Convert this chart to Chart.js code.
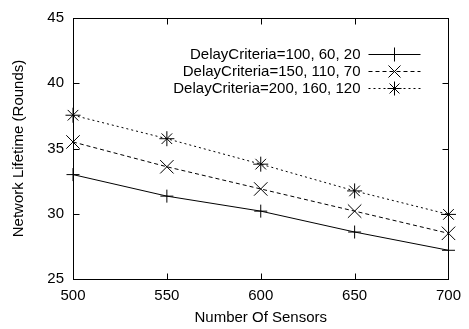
<!DOCTYPE html>
<html>
<head>
<meta charset="utf-8">
<script src="https://cdn.jsdelivr.net/npm/chart.js@4/dist/chart.umd.min.js"></script>
<style>
  body { margin: 0; background: #fff; }
  canvas { display: block; }
</style>
</head>
<body>
<canvas id="lifetime-chart" width="469" height="329"></canvas>
<script>

// Data.
var sensorCounts = [500, 550, 600, 650, 700];
var lifetimeDelay100 = [33.0, 31.35, 30.2, 28.6, 27.2];
var lifetimeDelay150 = [35.5, 33.6, 31.9, 30.2, 28.5];
var lifetimeDelay200 = [37.55, 35.75, 33.8, 31.75, 29.95];
var seriesLabels = [
    "DelayCriteria=100, 60, 20",
    "DelayCriteria=150, 110, 70",
    "DelayCriteria=200, 160, 120",
];
var xTickStep = 50;
var yTickStep = 5;
var yMin = 25;
var yMax = 45;

var FONT = "'Liberation Sans', Arial, Helvetica, sans-serif";


/**
* Pair x values with y values for a linear x axis.
*/
function toPoints(values) {

    return(sensorCounts.map((x, i) => ({x: x, y: values[i]})));

} // End of toPoints()


/**
* Draw one gnuplot-style marker (used in the key only).
*/
function drawMarker(ctx, style, x, y, r) {

    ctx.beginPath();
    if (style == "cross" || style == "star") {
        ctx.moveTo(x - r, y); ctx.lineTo(x + r, y);
        ctx.moveTo(x, y - r); ctx.lineTo(x, y + r);
    }
    if (style == "crossRot" || style == "star") {
        var d = r * Math.SQRT1_2;
        ctx.moveTo(x - d, y - d); ctx.lineTo(x + d, y + d);
        ctx.moveTo(x + d, y - d); ctx.lineTo(x - d, y + d);
    }
    ctx.stroke();

} // End of drawMarker()


/**
* Frame with inward ticks on all four sides, gnuplot style.
*/
var framePlugin = {
    id: "frame",
    beforeDatasetsDraw(chart) {
        var ctx = chart.ctx;
        var a = chart.chartArea;
        var xs = chart.scales.x;
        var ys = chart.scales.y;
        var len = 6;
        ctx.save();
        ctx.strokeStyle = "#000";
        ctx.lineWidth = 1;
        ctx.setLineDash([]);
        var l = Math.round(a.left) + 0.5, r = Math.round(a.right) + 0.5;
        var t = Math.round(a.top) + 0.5, b = Math.round(a.bottom) + 0.5;
        ctx.strokeRect(l, t, r - l, b - t);
        ctx.beginPath();
        xs.ticks.forEach(tick => {
            var px = Math.round(xs.getPixelForValue(tick.value)) + 0.5;
            ctx.moveTo(px, b); ctx.lineTo(px, b - len);
            ctx.moveTo(px, t); ctx.lineTo(px, t + len);
        });
        ys.ticks.forEach(tick => {
            var py = Math.round(ys.getPixelForValue(tick.value)) + 0.5;
            ctx.moveTo(l, py); ctx.lineTo(l + len, py);
            ctx.moveTo(r, py); ctx.lineTo(r - len, py);
        });
        ctx.stroke();
        ctx.restore();
    },
};


/**
* Key in the upper right: right-aligned text, then line sample with marker.
*/
var keyPlugin = {
    id: "key",
    afterDatasetsDraw(chart) {
        var ctx = chart.ctx;
        var a = chart.chartArea;
        ctx.save();
        ctx.font = "15px " + FONT;
        ctx.textAlign = "right";
        ctx.textBaseline = "middle";
        chart.data.datasets.forEach((ds, i) => {
            var y = Math.round(a.top + 36 + i * 17) + 0.5;
            var textRight = a.right - 88;
            var x0 = a.right - 80, x1 = a.right - 28;
            ctx.fillStyle = "#000";
            ctx.fillText(ds.label, textRight, y);
            ctx.strokeStyle = "#000";
            ctx.lineWidth = 1;
            ctx.setLineDash(ds.borderDash);
            ctx.beginPath();
            ctx.moveTo(x0, y); ctx.lineTo(x1, y);
            ctx.stroke();
            ctx.setLineDash([]);
            drawMarker(ctx, ds.pointStyle, Math.round((x0 + x1) / 2) + 0.5, y, ds.keyRadius);
        });
        ctx.restore();
    },
};


/**
* Build one dataset.
*/
function makeDataset(label, values, style, radius, keyRadius, dash) {

    return({
        label: label,
        data: toPoints(values),
        borderColor: "#000",
        backgroundColor: "#000",
        borderWidth: 1,
        borderDash: dash,
        pointStyle: style,
        pointRadius: radius,
        pointHoverRadius: radius,
        pointBorderColor: "#000",
        pointBorderWidth: 1,
        keyRadius: keyRadius,
        tension: 0,
        fill: false,
        clip: false,
    });

} // End of makeDataset()


var datasets = [
    makeDataset(seriesLabels[0], lifetimeDelay100, "cross", 6.5, 7, []),
    makeDataset(seriesLabels[1], lifetimeDelay150, "crossRot", 9.5, 8.5, [4, 3]),
    makeDataset(seriesLabels[2], lifetimeDelay200, "star", 7.5, 7, [2, 3]),
];

var ctx = document.getElementById("lifetime-chart").getContext("2d");
window.chart = new Chart(ctx, {
    type: "line",
    data: {datasets: datasets},
    plugins: [framePlugin, keyPlugin],
    options: {
        responsive: false,
        animation: false,
        devicePixelRatio: 1,
        layout: {padding: {top: 13, right: 18, left: 0, bottom: 0}},
        plugins: {
            legend: {display: false},
            tooltip: {enabled: false},
        },
        scales: {
            x: {
                type: "linear",
                min: sensorCounts[0],
                max: sensorCounts[sensorCounts.length - 1],
                grid: {display: false, drawTicks: false},
                border: {display: false},
                ticks: {
                    stepSize: xTickStep,
                    padding: 8,
                    maxRotation: 0,
                    color: "#000",
                    font: {family: FONT, size: 15},
                },
                title: {
                    display: true,
                    text: "Number Of Sensors",
                    color: "#000",
                    font: {family: FONT, size: 15},
                    padding: {top: 0, bottom: 2},
                },
                afterFit(scale) { scale.height = 50; },
            },
            y: {
                min: yMin,
                max: yMax,
                grid: {display: false, drawTicks: false},
                border: {display: false},
                ticks: {
                    stepSize: yTickStep,
                    padding: 9,
                    color: "#000",
                    font: {family: FONT, size: 15},
                },
                title: {
                    display: true,
                    text: "Network Lifetime (Rounds)",
                    color: "#000",
                    font: {family: FONT, size: 15},
                    padding: {top: 10, bottom: 0},
                },
                afterFit(scale) { scale.width = 73; },
            },
        },
    },
});

</script>
</body>
</html>
